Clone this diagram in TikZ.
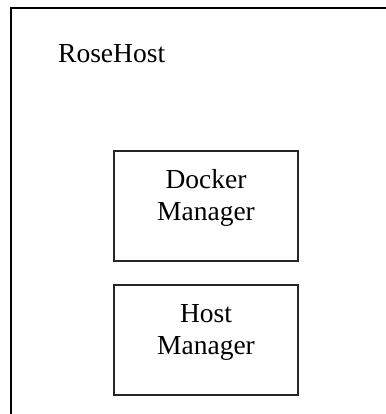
\documentclass[tikz,border=0pt]{standalone}
\usepackage{fontspec}
\setmainfont{Liberation Serif}
\begin{document}
\begin{tikzpicture}[x=1pt,y=-1pt,
  outerbox/.style={draw=black,line width=2.6pt},
  mgrbox/.style={draw=black!85,line width=1.2pt,minimum width=184pt,minimum height=110pt,inner sep=0pt},
  lbl/.style={font=\fontsize{27.5}{32}\selectfont,inner sep=0pt,align=center}]
\useasboundingbox (0,0) rectangle (385,414);
\draw[outerbox] (11,8) rectangle (400,430);
\node[lbl,anchor=base west] (rose) at (58,63) {RoseHost};
\node[mgrbox] (docker) at (206,206) {};
\node[mgrbox] (host) at (206,340) {};
\node[lbl,anchor=base] (dockertext) at (206,220) {Docker\\Manager};
\node[lbl,anchor=base] (hosttext) at (206,354) {Host\\Manager};
\end{tikzpicture}
\end{document}
